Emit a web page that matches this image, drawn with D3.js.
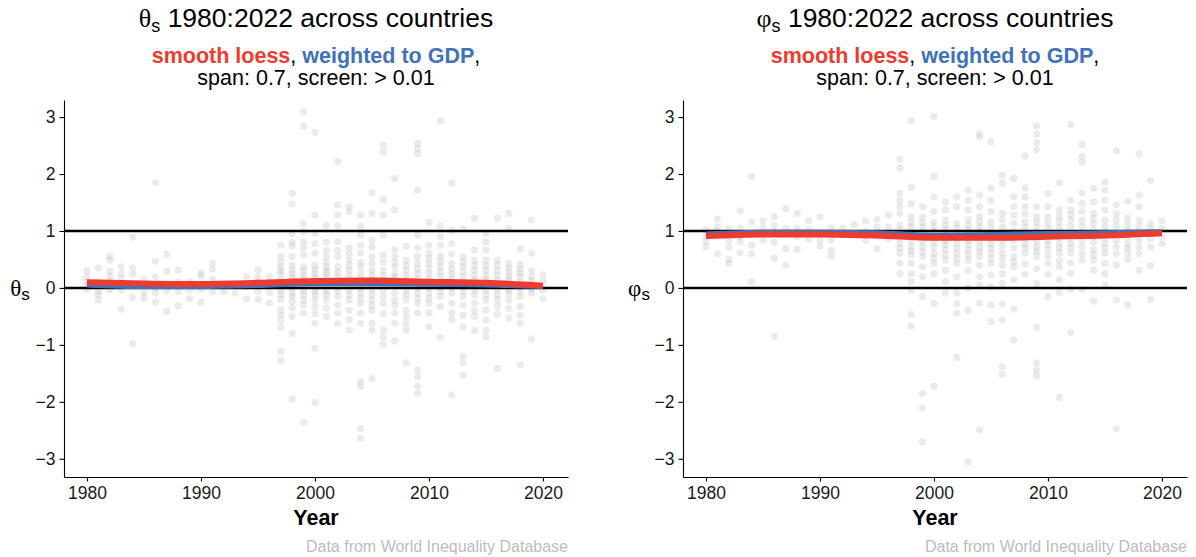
<!DOCTYPE html>
<html lang="en">
  <head>
    <meta charset="utf-8">
    <title>theta / phi across countries</title>
    <script src="https://d3js.org/d3.v7.min.js"></script>
    <style type="text/css">
      body {
        margin: 0;
        background-color: #FFFFFF;
        font-family: 'Liberation Sans', Arial, sans-serif;
      }
      .axis path, .axis line {
        stroke: #000000;
        stroke-width: 1.1;
      }
      .axis text {
        font-size: 17.5px;
        fill: #1a1a1a;
        font-family: 'Liberation Sans', Arial, sans-serif;
      }
      .ref {
        stroke: #000000;
        stroke-width: 2.6;
      }
      .dot {
        fill: #bebebe;
        fill-opacity: 0.3;
      }
      .greek {
        font-family: 'Liberation Serif', 'DejaVu Serif', serif;
      }
    </style>
  </head>
  <body>
  </body>
  <script type="text/javascript">
    // Data
    var YEARS = d3.range(1980, 2021);
    var Y_TICKS = [-3, -2, -1, 0, 1, 2, 3];
    var X_TICKS = [1980, 1990, 2000, 2010, 2020];
    var REF_LINES = [0, 1];

    // one array of country values per year, 1980..2020
    var thetaPoints = [
      [0.30, 0.20, 0.11, 0.05, -0.02],
      [0.35, 0.11, -0.06, -0.12, -0.21],
      [0.55, 0.49, 0.29, 0.20, 0.11, -0.03],
      [0.37, 0.25, 0.16, -0.04, -0.37],
      [0.89, 0.35, 0.24, -0.17, -0.98],
      [0.15, 0.05, -0.08, -0.18],
      [1.85, 0.47, 0.20, 0.00, -0.09, -0.25],
      [0.59, 0.29, -0.05, -0.41],
      [0.31, 0.11, -0.06, -0.31],
      [0.11, -0.03, -0.19],
      [0.26, 0.21, -0.02, -0.25],
      [0.43, 0.33, 0.15, -0.07],
      [0.05, -0.06],
      [0.05, -0.09],
      [0.20, 0.02, -0.19],
      [0.32, 0.20, 0.11, -0.06, -0.20],
      [0.20, 0.08, -0.08, -0.26],
      [0.75, 0.55, 0.45, 0.37, 0.25, 0.14, 0.02, -0.05, -0.12, -0.39, -0.48, -0.57, -0.69, -1.12, -1.27, 0.30, 0.08, -0.20],
      [1.66, 1.47, 0.95, 0.80, 0.74, 0.55, 0.40, 0.25, 0.18, 0.11, 0.00, -0.09, -0.24, -0.50, -0.80, -1.95, 0.32, 0.05, -0.15, -0.35],
      [3.09, 2.84, 1.13, 0.99, 0.80, 0.70, 0.58, 0.37, 0.30, 0.22, 0.08, -0.06, -0.21, -0.44, -2.36, 0.15, 0.02, -0.12, -0.30],
      [2.73, 1.28, 0.96, 0.78, 0.61, 0.40, 0.32, 0.25, 0.08, -0.06, -0.21, -0.33, -0.62, -1.06, -2.01, 0.18, 0.02, -0.12, -0.45],
      [1.10, 0.80, 0.66, 0.55, 0.45, 0.37, 0.25, 0.11, -0.06, -0.21, -0.35, -0.50, 0.30, 0.18, 0.04, -0.12],
      [2.22, 1.46, 1.28, 1.09, 0.81, 0.66, 0.55, 0.37, 0.20, 0.02, -0.15, -0.44, -0.62, 0.28, 0.12, -0.05, -0.30],
      [1.43, 1.34, 0.70, 0.49, 0.40, 0.31, 0.14, -0.03, -0.21, -0.39, -0.56, -0.74, 0.22, 0.06, -0.12, 0.60],
      [1.28, 1.08, 0.93, 0.75, 0.61, 0.37, 0.25, 0.08, -0.09, -0.27, -0.44, -0.62, -1.64, -1.73, -2.47, -2.64, 0.45, 0.16, 0.00, -0.18],
      [1.67, 1.31, 0.84, 0.72, 0.55, 0.43, 0.31, 0.14, -0.03, -0.21, -0.39, -0.62, -0.74, -1.59, 0.22, 0.06, -0.12, -0.30],
      [2.51, 2.39, 1.55, 1.28, 0.93, 0.58, 0.45, 0.31, 0.14, -0.03, -0.27, -0.74, -0.86, -0.99, 0.22, 0.05, -0.15, -0.45],
      [1.92, 1.37, 0.67, 0.55, 0.37, 0.25, 0.14, -0.09, -0.21, -0.44, -0.62, -0.93, 0.45, 0.20, 0.04, -0.30],
      [0.73, 0.49, 0.31, 0.14, -0.03, -0.21, -0.39, -0.50, -0.62, -0.74, -1.32, 0.40, 0.22, 0.06, -0.12],
      [2.54, 2.45, 2.36, 1.72, 0.93, 0.70, 0.55, 0.43, 0.25, 0.08, -0.09, -0.27, -0.44, -1.44, -1.56, -1.72, -1.85, 0.34, 0.16, 0.00, -0.18],
      [1.15, 0.75, 0.61, 0.43, 0.25, 0.08, -0.09, -0.27, -0.44, -0.68, 0.52, 0.34, 0.16, 0.00, -0.18],
      [2.93, 1.08, 0.90, 0.75, 0.55, 0.37, 0.20, 0.02, -0.15, -0.33, -0.87, 0.46, 0.28, 0.10, -0.06],
      [1.84, 1.01, 0.78, 0.43, 0.25, 0.08, -0.09, -0.27, -0.44, -0.56, -1.88, 0.60, 0.34, 0.16, 0.00],
      [1.04, 0.55, 0.37, 0.20, 0.02, -0.15, -0.48, -0.68, -1.20, -1.32, -1.53, 0.46, 0.28, 0.10, -0.06, -0.30],
      [1.22, 0.67, 0.49, 0.31, 0.14, -0.03, -0.27, -0.50, -0.75, 0.40, 0.22, 0.06, -0.12, -0.40],
      [0.96, 0.81, 0.67, 0.49, 0.31, 0.14, -0.03, -0.21, -0.39, -0.56, -0.74, -0.86, 0.40, 0.22, 0.06, -0.12],
      [1.22, 0.49, 0.31, 0.14, -0.03, -0.21, -0.46, -1.41, 0.40, 0.22, 0.06, -0.12, -0.32],
      [1.31, 1.04, 0.43, 0.28, 0.14, -0.03, -0.21, -0.53, 0.35, 0.20, 0.06, -0.10, -0.36],
      [0.68, 0.34, 0.20, 0.02, -0.15, -0.33, -0.48, -0.62, -1.35, 0.42, 0.26, 0.10, -0.06],
      [1.19, 0.61, 0.20, 0.05, -0.09, -0.90, 0.30, 0.12, -0.02],
      [0.23, 0.11, -0.03, -0.19]
    ];

    var phiPoints = [
      [1.02, 0.90, 0.81, 0.72],
      [1.21, 1.07, 0.99, 0.60],
      [1.04, 0.84, 0.72, 0.50, 0.43],
      [1.35, 1.04, 0.90, 0.81, 0.62],
      [1.96, 1.16, 0.75, 0.60, 0.11],
      [1.18, 1.07, 0.84],
      [1.25, 1.10, 0.99, 0.80, 0.52, -0.85],
      [1.39, 1.04, 0.69, 0.40],
      [1.31, 1.05, 0.90, 0.68],
      [1.18, 1.02, 0.87],
      [1.25, 0.84, 0.73],
      [1.05, 0.84, 0.66, 0.56],
      [1.05, 0.95],
      [1.11, 0.96],
      [1.18, 0.99, 0.84],
      [1.20, 1.07, 0.90, 0.69],
      [1.28, 1.07, 0.87],
      [2.26, 2.11, 1.66, 1.54, 1.43, 1.31, 1.11, 0.96, 0.78, 0.61, 0.43, 0.25, 1.02, 0.88, 0.70],
      [2.94, 1.77, 1.48, 1.25, 1.07, 0.90, 0.72, 0.58, 0.43, 0.25, 0.11, -0.04, -0.47, -0.67, 1.15, 0.98, 0.82, 0.65],
      [1.43, 1.25, 1.07, 0.90, 0.72, 0.55, 0.37, 0.20, -0.15, -1.85, -2.11, -2.70, 1.15, 0.98, 0.82, 0.64],
      [3.01, 1.96, 1.60, 1.34, 1.16, 0.99, 0.81, 0.61, 0.43, 0.25, -0.27, -1.73, 1.08, 0.90, 0.72, 0.52],
      [1.51, 1.37, 1.19, 1.02, 0.84, 0.67, 0.49, 0.31, 0.11, -0.09, 1.10, 0.93, 0.76, 0.58],
      [1.60, 1.43, 1.13, 0.96, 0.78, 0.61, 0.43, 0.20, -0.09, -0.28, -0.44, -1.22, 1.05, 0.88, 0.70, 0.52],
      [1.72, 1.54, 1.37, 1.19, 1.02, 0.84, 0.67, 0.49, 0.31, 0.00, -0.39, -3.05, 1.10, 0.93, 0.76, 0.58],
      [2.71, 2.65, 1.63, 1.43, 1.25, 1.07, 0.90, 0.72, 0.55, 0.40, 0.20, 0.05, -0.27, -2.49, 1.16, 0.98, 0.82, 0.64],
      [2.57, 1.75, 1.54, 1.34, 1.16, 0.96, 0.78, 0.61, 0.43, 0.23, 0.02, -0.30, -0.59, 1.06, 0.88, 0.70, 0.52],
      [1.98, 1.84, 1.31, 1.07, 0.84, 0.61, 0.40, 0.08, -0.28, -0.56, -1.38, -1.52, 1.20, 0.96, 0.74, 0.52, 0.25],
      [1.92, 1.60, 1.43, 1.13, 0.84, 0.55, 0.37, 0.14, -0.37, -0.91, 1.28, 1.00, 0.70, 0.46],
      [2.32, 1.76, 1.60, 1.43, 1.16, 0.96, 0.78, 0.61, 0.24, 1.30, 1.06, 0.88, 0.70, 0.42],
      [2.84, 2.70, 2.55, 2.43, 1.43, 1.25, 1.07, 0.90, 0.72, 0.55, 0.34, 0.08, -0.69, -1.32, -1.44, -1.54, 1.16, 0.98, 0.82, 0.64],
      [1.66, 1.43, 1.25, 1.04, 0.84, 0.67, 0.43, 0.24, -0.15, 1.14, 0.94, 0.76, 0.56],
      [1.85, 1.37, 1.16, 0.96, 0.78, 0.61, 0.37, 0.14, -0.08, -1.92, 1.26, 1.06, 0.88, 0.70, 0.48],
      [2.87, 1.54, 1.37, 1.19, 0.96, 0.78, 0.61, 0.26, -0.02, -0.78, 1.28, 1.08, 0.88, 0.70, 0.44],
      [2.52, 2.31, 2.21, 1.67, 1.48, 1.19, 0.96, 0.72, 0.49, -0.03, 1.34, 1.08, 0.84, 0.60],
      [1.75, 1.51, 1.31, 1.13, 0.90, 0.67, 0.49, 0.31, -0.23, 1.22, 1.02, 0.80, 0.58],
      [1.86, 1.72, 1.54, 1.37, 1.19, 0.96, 0.78, 0.61, 0.43, 0.25, 0.06, 1.08, 0.88, 0.70],
      [2.41, 1.46, 1.19, 0.96, 0.72, -0.21, -2.47, 1.30, 1.08, 0.84, 0.60, 0.40],
      [1.52, 1.22, 1.01, 0.78, 0.61, -0.30, 1.12, 0.90, 0.70, 0.50],
      [2.35, 1.63, 1.43, 1.19, 0.96, 0.72, 0.31, 1.08, 0.84, 0.60],
      [1.89, 1.13, 0.96, 0.72, 0.39, -0.20, 1.04, 0.86],
      [1.18, 1.04, 0.90, 0.78]
    ];

    // smoothed fits, every 5 years
    var SMOOTH_YEARS = [1980, 1985, 1990, 1995, 2000, 2005, 2010, 2015, 2020];
    var thetaLoess = [0.10, 0.08, 0.07, 0.09, 0.12, 0.13, 0.11, 0.09, 0.04];
    var thetaGdp = [0.04, 0.01, 0.01, 0.03, 0.06, 0.06, 0.05, 0.04, 0.01];
    var phiLoess = [0.91, 0.94, 0.94, 0.92, 0.88, 0.88, 0.90, 0.92, 0.96];
    var phiGdp = [0.96, 0.99, 0.99, 0.98, 0.94, 0.95, 0.97, 0.98, 1.00];

    var RED = "#EE3B2F",
        BLUE = "#3F72B8";

    var W = 1196, H = 557;
    var TOP = 100, BOTTOM = 477;

    var svg = d3.select("body").append("svg")
        .attr("width", W)
        .attr("height", H);

    var panels = [
      {x0: 64, x1: 568, greek: "\u03B8", points: thetaPoints, loess: thetaLoess, gdp: thetaGdp},
      {x0: 683, x1: 1187, greek: "\u03C6", points: phiPoints, loess: phiLoess, gdp: phiGdp}
    ];

    panels.forEach(drawPanel);

    function drawPanel(p) {
      var xScale = d3.scaleLinear()
          .domain([1977.98, 2022.2])
          .range([p.x0, p.x1]);

      var yScale = d3.scaleLinear()
          .domain([-3.32, 3.30])
          .range([BOTTOM, TOP]);

      var g = svg.append("g");
      var cx = (p.x0 + p.x1) / 2;

      // title
      var title = g.append("text")
          .attr("x", cx)
          .attr("y", 27)
          .attr("text-anchor", "middle")
          .style("font-size", "26.5px");
      title.append("tspan").attr("class", "greek").style("font-size", "26px").text(p.greek);
      title.append("tspan").attr("dy", 5).style("font-size", "18px").text("s");
      title.append("tspan").attr("dy", -5).text(" 1980:2022 across countries");

      var sub = g.append("text")
          .attr("x", cx)
          .attr("y", 63)
          .attr("text-anchor", "middle")
          .style("font-size", "21.5px");
      sub.append("tspan").style("font-weight", "bold").style("fill", RED).text("smooth loess");
      sub.append("tspan").text(", ");
      sub.append("tspan").style("font-weight", "bold").style("fill", BLUE).text("weighted to GDP");
      sub.append("tspan").text(",");

      g.append("text")
          .attr("x", cx)
          .attr("y", 85)
          .attr("text-anchor", "middle")
          .style("font-size", "21.5px")
          .text("span: 0.7, screen: > 0.01");

      // points
      var flat = [];
      p.points.forEach(function(vals, i) {
        vals.forEach(function(v) { flat.push({year: YEARS[i], v: v}); });
      });

      g.selectAll(".dot")
          .data(flat)
        .enter().append("circle")
          .attr("class", "dot")
          .attr("cx", function(d) { return xScale(d.year); })
          .attr("cy", function(d) { return yScale(d.v); })
          .attr("r", 3.6);

      // reference lines
      g.selectAll(".ref")
          .data(REF_LINES)
        .enter().append("line")
          .attr("class", "ref")
          .attr("x1", p.x0)
          .attr("x2", p.x1)
          .attr("y1", function(d) { return yScale(d); })
          .attr("y2", function(d) { return yScale(d); });

      var line = d3.line()
          .x(function(d, i) { return xScale(SMOOTH_YEARS[i]); })
          .y(function(d) { return yScale(d); })
          .curve(d3.curveMonotoneX);

      g.append("path")
          .datum(p.gdp)
          .attr("fill", "none")
          .attr("stroke", BLUE)
          .attr("stroke-width", 3.5)
          .attr("d", line);

      g.append("path")
          .datum(p.loess)
          .attr("fill", "none")
          .attr("stroke", RED)
          .attr("stroke-width", 6)
          .attr("d", line);

      // axes
      g.append("g")
          .attr("class", "axis")
          .attr("transform", "translate(" + p.x0 + ",0)")
          .call(d3.axisLeft(yScale).tickValues(Y_TICKS).tickFormat(d3.format("d"))
            .tickSize(4.5).tickSizeOuter(0).tickPadding(4));

      g.append("g")
          .attr("class", "axis")
          .attr("transform", "translate(0," + BOTTOM + ")")
          .call(d3.axisBottom(xScale).tickValues(X_TICKS).tickFormat(d3.format("d"))
            .tickSize(4.5).tickSizeOuter(0).tickPadding(5));

      // axis titles
      var ylab = g.append("text")
          .attr("x", p.x0 - 44)
          .attr("y", yScale(0) + 8)
          .attr("text-anchor", "middle")
          .style("font-size", "23px");
      ylab.append("tspan").attr("class", "greek").text(p.greek);
      ylab.append("tspan").attr("dy", 4).style("font-size", "17px").text("s");

      g.append("text")
          .attr("x", cx)
          .attr("y", 525)
          .attr("text-anchor", "middle")
          .style("font-size", "21.5px")
          .style("font-weight", "bold")
          .text("Year");

      g.append("text")
          .attr("x", p.x1)
          .attr("y", 552)
          .attr("text-anchor", "end")
          .style("font-size", "16px")
          .style("fill", "#bdbdbd")
          .text("Data from World Inequality Database");
    }
  </script>
</html>
